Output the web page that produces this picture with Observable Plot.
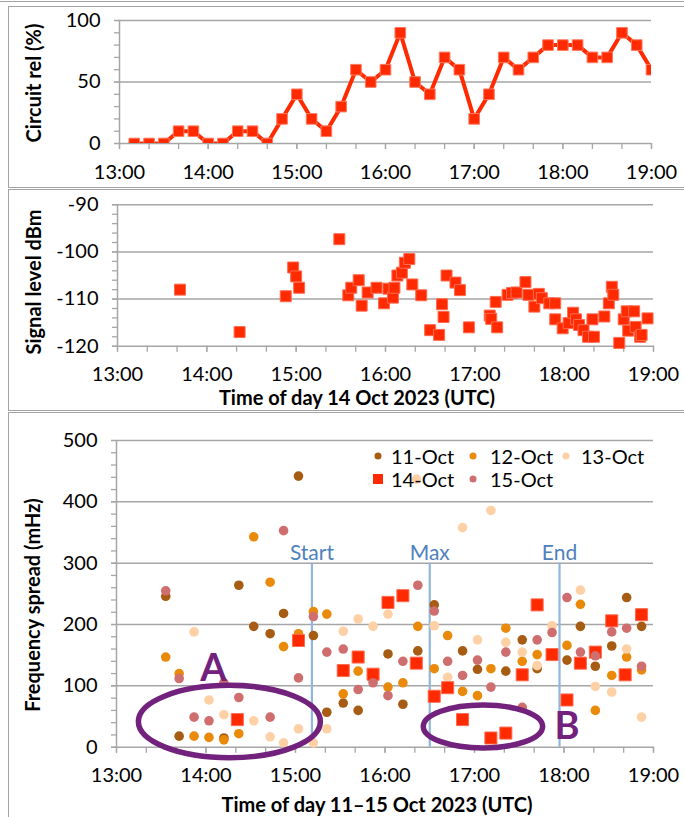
<!DOCTYPE html>
<html><head><meta charset="utf-8">
<script src="https://cdn.jsdelivr.net/npm/d3@7"></script>
<script src="https://cdn.jsdelivr.net/npm/@observablehq/plot@0.6"></script>
<style>
body{margin:0;background:#fff;}
#page{position:relative;width:684px;height:817px;overflow:hidden;background:#fff;font-family:Lato,"Open Sans",sans-serif;color:#000;}
.box{position:absolute;left:8px;width:800px;border:1.5px solid #a3a3a3;box-sizing:border-box;}
.hline{position:absolute;left:0;width:684px;height:0;border-top:1.5px solid #a3a3a3;}
.plot{position:absolute;left:0;}
.ytitle{position:absolute;font-weight:bold;font-size:20px;line-height:20px;white-space:nowrap;transform:translate(-50%,-50%) rotate(-90deg);}
.xtitle{position:absolute;font-weight:bold;font-size:20px;line-height:20px;white-space:nowrap;transform:translate(-50%,0);}
.lg{position:absolute;font-size:20px;line-height:20px;white-space:nowrap;}
.mk{position:absolute;transform:translate(-50%,-50%);}
</style>
</head><body>
<div id="page">
  <div class="hline" style="top:0.5px"></div>
  <div class="box" style="top:6px;height:182px"></div>
  <div class="box" style="top:189px;height:222px"></div>
  <div class="box" style="top:412px;height:420px"></div>
  <div id="p1" class="plot" style="top:0"></div>
  <div id="p2" class="plot" style="top:188px"></div>
  <div id="p3" class="plot" style="top:410px"></div>
  <div class="ytitle" style="left:33px;top:83px">Circuit rel (%)</div>
  <div class="ytitle" style="left:33px;top:282px">Signal level dBm</div>
  <div class="ytitle" style="left:32px;top:605px">Frequency spread (mHz)</div>
  <div class="xtitle" style="left:357px;top:387px">Time of day 14 Oct 2023 (UTC)</div>
  <div class="xtitle" style="left:377px;top:794px">Time of day 11–15 Oct 2023 (UTC)</div>
  <div id="legend"></div>
</div>
<script>
// ---------- data ----------
const hourLabels = ["13:00","14:00","15:00","16:00","17:00","18:00","19:00"];

// Panel 1: circuit reliability (%), 14 Oct
const circTimes = ["13:10","13:20","13:30","13:40","13:50","14:00","14:10","14:20","14:30","14:40","14:50","15:00","15:10","15:20","15:30","15:40","15:50","16:00","16:10","16:20","16:30","16:40","16:50","17:00","17:10","17:20","17:30","17:40","17:50","18:00","18:10","18:20","18:30","18:40","18:50","19:00"];
const circRel = [0,0,0,10,10,0,0,10,10,0,20,40,20,10,30,60,50,60,90,50,40,70,60,20,40,70,60,70,80,80,80,70,70,90,80,60];

// Panel 2: signal level (dBm), 14 Oct
const sigTimes = ["13:42","14:22","14:53","14:58","15:00","15:02","15:29","15:35","15:37","15:42","15:44","15:48","15:54","15:59","16:02","16:05","16:06","16:08","16:11","16:13","16:16","16:18","16:24","16:30","16:36","16:38","16:39","16:41","16:47","16:50","16:56","17:10","17:11","17:14","17:15","17:22","17:25","17:28","17:34","17:36","17:40","17:43","17:45","17:50","17:54","17:54","17:59","18:03","18:06","18:08","18:10","18:13","18:16","18:19","18:20","18:27","18:30","18:32","18:33","18:37","18:40","18:42","18:43","18:47","18:48","18:51","18:52","18:56"];
const sigLevel = [-108,-117,-109.4,-103.3,-105.2,-107.6,-97.3,-109.2,-107.6,-106,-111.4,-108.6,-107.6,-110.9,-107.8,-109.7,-107.6,-105,-104.4,-102.3,-101.5,-106.9,-109.2,-116.6,-117.6,-111.1,-113.8,-105,-106.5,-108.1,-116,-113.5,-114.2,-110.6,-116,-109.1,-108.7,-108.6,-106.4,-109.1,-111.6,-108.9,-109.8,-110.9,-110.9,-114.3,-116.2,-115.1,-112.9,-114.3,-115.5,-116.6,-118,-114.3,-118,-113.7,-110.9,-107.4,-109.1,-119.3,-114.3,-112.6,-116.7,-112.6,-115.9,-118,-117.6,-114.1];

// Panel 3: frequency spread (mHz), 11-15 Oct
const seriesNames = ["11-Oct","12-Oct","13-Oct","14-Oct","15-Oct"];
const seriesColors = ["#a65c12","#ea8a0a","#fdd0a6","#ff2a00","#cf6e6e"];
const oct11Times = ["13:33","13:42","14:12","14:22","14:32","14:43","14:52","15:02","15:12","15:21","15:32","15:42","15:52","16:02","16:12","16:22","16:33","16:52","17:02","17:21","17:32","17:42","18:02","18:11","18:21","18:32","18:42","18:52"];
const oct11Vals  = [246,18,15,264,197,185,218,442,182,57,72,60,110,152,70,157,232,157,127,124,175,128,142,197,132,165,244,197];
const oct12Times = ["13:33","13:42","13:52","14:02","14:12","14:22","14:32","14:43","14:52","15:02","15:12","15:21","15:32","15:42","16:02","16:12","16:22","16:33","16:42","16:52","17:02","17:11","17:21","17:32","17:42","18:02","18:11","18:21","18:32","18:42","18:52"];
const oct12Vals  = [147,120,18,16,12,22,343,269,164,185,221,217,87,124,98,105,197,128,182,91,84,128,194,140,151,166,233,60,117,147,126];
const oct13Times = ["13:52","14:02","14:12","14:32","14:43","14:52","15:02","15:12","15:21","15:32","15:42","15:52","16:02","16:21","16:33","16:42","16:52","17:02","17:11","17:21","17:32","17:42","17:52","18:11","18:21","18:32","18:42","18:52"];
const oct13Vals  = [188,77,53,43,17,7,30,7,30,189,209,197,217,437,198,114,358,175,386,171,155,133,198,256,99,90,160,49];
const oct14Times = ["14:21","15:02","15:32","15:42","15:52","16:02","16:12","16:21","16:33","16:42","16:52","17:11","17:21","17:32","17:42","17:52","18:02","18:11","18:21","18:32","18:41","18:52"];
const oct14Vals  = [45,174,125,147,119,236,247,137,83,97,45,15,23,118,232,151,77,137,155,206,118,216];
const oct15Times = ["13:33","13:42","13:52","14:02","14:12","14:22","14:43","14:52","15:02","15:12","15:21","15:32","15:42","15:52","16:02","16:12","16:22","16:33","16:42","16:52","17:02","17:11","17:21","17:32","17:42","17:52","18:02","18:11","18:21","18:32","18:42","18:52"];
const oct15Vals  = [255,112,49,43,105,81,49,353,113,213,155,160,94,105,84,140,264,222,140,117,142,98,155,65,175,187,244,155,149,188,194,132];

// eclipse markers
const eventNames = ["Start","Max","End"];
const eventTimes = ["15:11","16:30","17:57"];
const eventTop = 300;
// annotation ellipses & letters
const ringLabels = ["A","B"];
const ringCenterTimes = ["14:16","17:06"];
const ringCenterVals = [41,33];
const ringHalfWidthMin = [61,40];
const ringHalfHeight = [59,35];
const letterTimes = ["14:05","18:02"];
const letterVals = [108,14];

// ---------- helpers ----------
const hm = s => { const [h, m] = s.split(":").map(Number); return h + m / 60; };
const hourTicks = hourLabels.map(hm);
const hourFmt = d => hourLabels[hourTicks.indexOf(d)] ?? "";
const minorX = d3.range(13, 19.0001, 1 / 3);
const GRID = "#a6a6a6";
const RED = "#ff2a00";
const FONT = "Lato, 'Open Sans', sans-serif";
const PURPLE = "#72217c";
const BLUE = "#4f81bd";
const style = {fontFamily: FONT, fontSize: "20px", color: "#000", background: "transparent", overflow: "visible"};

function frame({yDomain, yMajor, yMinor, yFmt}) {
  return [
    Plot.gridY(yMajor.filter(v => v !== yDomain[0]), {stroke: GRID, strokeOpacity: 1, strokeWidth: 1.5}),
    Plot.ruleX([13], {stroke: GRID, strokeWidth: 1.5}),
    Plot.ruleY([yDomain[0]], {stroke: GRID, strokeWidth: 1.5}),
    Plot.axisY({ticks: yMinor, tickSize: 5, tickFormat: () => "", stroke: GRID, strokeWidth: 1.3, label: null}),
    Plot.axisY({ticks: yMajor, tickSize: 5, tickPadding: 14, tickFormat: yFmt, fontSize: 20, stroke: GRID, strokeWidth: 1.3, label: null}),
    Plot.axisX({ticks: minorX, tickSize: 6, tickFormat: () => "", stroke: GRID, strokeWidth: 1.3, label: null}),
    Plot.axisX({ticks: hourTicks, tickSize: 6, tickPadding: 15, tickFormat: hourFmt, fontSize: 20, stroke: GRID, strokeWidth: 1.3, label: null})
  ];
}

// ---------- panel 1 ----------
const circ = circTimes.map((t, i) => ({t: hm(t), v: circRel[i]}));
document.getElementById("p1").append(Plot.plot({
  width: 684, height: 188, marginLeft: 119, marginRight: 33, marginTop: 20, marginBottom: 45,
  x: {domain: [13, 19]}, y: {domain: [0, 100]}, style,
  marks: [
    ...frame({yDomain: [0, 100], yMajor: [0, 50, 100], yMinor: d3.range(0, 101, 10), yFmt: d => String(d)}),
    Plot.line(circ, {x: "t", y: "v", stroke: RED, strokeWidth: 4, clip: true}),
    Plot.dot(circ, {x: "t", y: "v", symbol: "square", r: 6, fill: RED, stroke: "#ff7a60", strokeWidth: 1, clip: true})
  ]
}));

// ---------- panel 2 ----------
const sig = sigTimes.map((t, i) => ({t: hm(t), v: sigLevel[i]}));
document.getElementById("p2").append(Plot.plot({
  width: 684, height: 222, marginLeft: 117, marginRight: 31, marginTop: 16.3, marginBottom: 64.3,
  x: {domain: [13, 19]}, y: {domain: [-120, -90]}, style,
  marks: [
    ...frame({yDomain: [-120, -90], yMajor: [-120, -110, -100, -90], yMinor: d3.range(-120, -89, 2), yFmt: d => String(d)}),
    Plot.dot(sig, {x: "t", y: "v", symbol: "square", r: 6.2, fill: RED, stroke: "#ff6a50", strokeWidth: 1})
  ]
}));

// ---------- panel 3 ----------
const seriesTimes = [oct11Times, oct12Times, oct13Times, oct14Times, oct15Times];
const seriesVals = [oct11Vals, oct12Vals, oct13Vals, oct14Vals, oct15Vals];
const freq = seriesNames.flatMap((s, k) => seriesTimes[k].map((t, i) => ({s, t: hm(t), v: seriesVals[k][i]})));
const events = eventNames.map((n, i) => ({n, t: hm(eventTimes[i])}));
const letters = ringLabels.map((n, i) => ({n, t: hm(letterTimes[i]), v: letterVals[i]}));
const rings = ringLabels.map((n, i) => ({t: hm(ringCenterTimes[i]), v: ringCenterVals[i], rx: ringHalfWidthMin[i] / 60, ry: ringHalfHeight[i]}));
const ringMark = (index, scales) => {
  const g = d3.create("svg:g");
  for (const e of rings) {
    const cx = scales.x(e.t), cy = scales.y(e.v);
    g.append("ellipse").attr("cx", cx).attr("cy", cy)
      .attr("rx", scales.x(e.t + e.rx) - cx).attr("ry", cy - scales.y(e.v + e.ry))
      .attr("fill", "none").attr("stroke", PURPLE).attr("stroke-width", 5.5);
  }
  return g.node();
};
const colorOf = Object.fromEntries(seriesNames.map((s, i) => [s, seriesColors[i]]));
document.getElementById("p3").append(Plot.plot({
  width: 684, height: 407, marginLeft: 116, marginRight: 31, marginTop: 30, marginBottom: 70.3,
  x: {domain: [13, 19]}, y: {domain: [0, 500]}, style,
  marks: [
    ...frame({yDomain: [0, 500], yMajor: [0, 100, 200, 300, 400, 500], yMinor: d3.range(0, 501, 20), yFmt: d => String(d)}),
    Plot.ruleX(events, {x: "t", y1: 0, y2: eventTop, stroke: "#8fb6dc", strokeWidth: 2.2}),
    Plot.text(events, {x: "t", y: eventTop, text: "n", lineAnchor: "bottom", dy: -3, fill: BLUE, fontSize: 21}),
    ...seriesNames.map(s => s === "14-Oct"
      ? Plot.dot(freq.filter(d => d.s === s), {x: "t", y: "v", symbol: "square", r: 6.8, fill: colorOf[s], stroke: "#ff6a50", strokeWidth: 1})
      : Plot.dot(freq.filter(d => d.s === s), {x: "t", y: "v", r: 4.8, fill: colorOf[s]})),
    ringMark,
    Plot.text(letters, {x: "t", y: "v", text: "n", lineAnchor: "bottom", fill: PURPLE, fontSize: 38, fontWeight: "bold"})
  ]
}));

// ---------- legend (HTML, inside panel 3) ----------
const legendPos = [[378, 456, 391], [473, 456, 490], [566, 456, 581], [378, 479, 391], [473, 479, 490]];
const lg = document.getElementById("legend");
seriesNames.forEach((s, i) => {
  const [mx, my, tx] = legendPos[i];
  const m = document.createElement("div");
  m.className = "mk";
  const sq = s === "14-Oct";
  Object.assign(m.style, {left: mx + "px", top: my + "px", width: (sq ? 10 : 7) + "px", height: (sq ? 10 : 7) + "px",
    background: seriesColors[i], borderRadius: sq ? "0" : "50%"});
  lg.append(m);
  const t = document.createElement("div");
  t.className = "lg";
  t.textContent = s;
  Object.assign(t.style, {left: tx + "px", top: (my - 10.5) + "px"});
  lg.append(t);
});
</script>
</body></html>
